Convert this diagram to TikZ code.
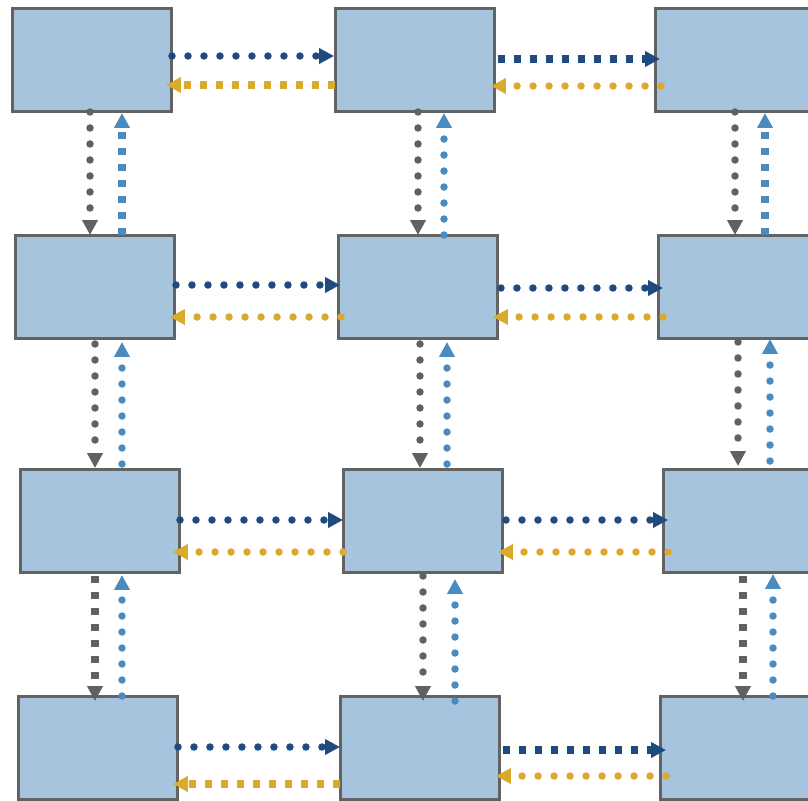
\documentclass[tikz,border=0pt]{standalone}
\usepackage{tikz}
\usetikzlibrary{arrows.meta,calc}
\definecolor{bfill}{HTML}{A7C4DE}
\definecolor{bline}{HTML}{636363}
\definecolor{cnavy}{HTML}{1F4A7D}
\definecolor{cgold}{HTML}{DAAB2A}
\definecolor{cgray}{HTML}{616161}
\definecolor{cblue}{HTML}{4A8BC0}
\tikzset{
  % plain cell
  cell/.style  = {rectangle, draw=bline, fill=bfill, line width=0.06cm, inner sep=0pt,
                  outer sep=0pt, minimum width=3.2cm, minimum height=2.08cm},
  % round dots
  dotln/.style = {draw=#1, line width=0.15cm, line cap=round, dash pattern=on 0pt off 0.32cm,
                  -{Triangle[length=0.3cm,width=0.3cm,fill=#1]}},
  % square dashes
  sqln/.style  = {draw=#1, line width=0.15cm, dash pattern=on 0.15cm off 0.17cm,
                  -{Triangle[length=0.3cm,width=0.3cm,fill=#1]}},
}

\begin{document}
\begin{tikzpicture}[x=0.02cm,y=-0.02cm]
\useasboundingbox (0,0) rectangle (808,801);
% cells
\node[cell] (A1) at (92,60) {};
\node[cell] (B1) at (415,60) {};
\node[cell] (C1) at (735,60) {};
\node[cell] (A2) at (95,287) {};
\node[cell] (B2) at (418,287) {};
\node[cell] (C2) at (738,287) {};
\node[cell] (A3) at (100,521) {};
\node[cell] (B3) at (423,521) {};
\node[cell] (C3) at (743,521) {};
\node[cell] (A4) at (98,748) {};
\node[cell] (B4) at (420,748) {};
\node[cell] (C4) at (740,748) {};
% row 1
\draw[dotln=cnavy] (A1.east |- 0,56) -- ($(B1.west |- 0,56)+(-1,0)$);
\draw[sqln=cgold] (B1.west |- 0,85) -- ($(A1.east |- 0,85)+(-6,0)$);
\draw[sqln=cnavy] ($(B1.east |- 0,59)+(3,0)$) -- ($(C1.west |- 0,59)+(5,0)$);
\draw[dotln=cgold] ($(C1.west |- 0,86)+(6,0)$) -- ($(B1.east |- 0,86)+(-4,0)$);
% row 1 to row 2
\draw[dotln=cgray] (A1.south -| 90,0) -- (A2.north -| 90,0);
\draw[sqln=cblue] (A2.north -| 122,0) -- ($(A1.south -| 122,0)+(0,1)$);
\draw[dotln=cgray] (B1.south -| 418,0) -- (B2.north -| 418,0);
\draw[dotln=cblue] (B2.north -| 444,0) -- ($(B1.south -| 444,0)+(0,1)$);
\draw[dotln=cgray] (C1.south -| 735,0) -- (C2.north -| 735,0);
\draw[sqln=cblue] (C2.north -| 765,0) -- ($(C1.south -| 765,0)+(0,1)$);
% row 2
\draw[dotln=cnavy] ($(A2.east |- 0,285)+(1,0)$) -- ($(B2.west |- 0,285)+(2,0)$);
\draw[dotln=cgold] ($(B2.west |- 0,317)+(3,0)$) -- ($(A2.east |- 0,317)+(-5,0)$);
\draw[dotln=cnavy] ($(B2.east |- 0,288)+(3,0)$) -- ($(C2.west |- 0,288)+(5,0)$);
\draw[dotln=cgold] ($(C2.west |- 0,317)+(5,0)$) -- ($(B2.east |- 0,317)+(-5,0)$);
% row 2 to row 3
\draw[dotln=cgray] ($(A2.south -| 95,0)+(0,5)$) -- ($(A3.north -| 95,0)+(0,-1)$);
\draw[dotln=cblue] ($(A3.north -| 122,0)+(0,-5)$) -- ($(A2.south -| 122,0)+(0,3)$);
\draw[dotln=cgray] ($(B2.south -| 420,0)+(0,5)$) -- ($(B3.north -| 420,0)+(0,-1)$);
\draw[dotln=cblue] ($(B3.north -| 447,0)+(0,-5)$) -- ($(B2.south -| 447,0)+(0,3)$);
\draw[dotln=cgray] ($(C2.south -| 738,0)+(0,3)$) -- ($(C3.north -| 738,0)+(0,-3)$);
\draw[dotln=cblue] ($(C3.north -| 770,0)+(0,-8)$) -- (C2.south -| 770,0);
% row 3
\draw[dotln=cnavy] (A3.east |- 0,520) -- (B3.west |- 0,520);
\draw[dotln=cgold] (B3.west |- 0,552) -- ($(A3.east |- 0,552)+(-7,0)$);
\draw[dotln=cnavy] ($(B3.east |- 0,520)+(3,0)$) -- ($(C3.west |- 0,520)+(5,0)$);
\draw[dotln=cgold] ($(C3.west |- 0,552)+(5,0)$) -- ($(B3.east |- 0,552)+(-5,0)$);
% row 3 to row 4
\draw[sqln=cgray] ($(A3.south -| 95,0)+(0,3)$) -- ($(A4.north -| 95,0)+(0,5)$);
\draw[dotln=cblue] (A4.north -| 122,0) -- ($(A3.south -| 122,0)+(0,2)$);
\draw[dotln=cgray] ($(B3.south -| 423,0)+(0,3)$) -- ($(B4.north -| 423,0)+(0,5)$);
\draw[dotln=cblue] ($(B4.north -| 455,0)+(0,5)$) -- ($(B3.south -| 455,0)+(0,6)$);
\draw[sqln=cgray] ($(C3.south -| 743,0)+(0,3)$) -- ($(C4.north -| 743,0)+(0,5)$);
\draw[dotln=cblue] (C4.north -| 773,0) -- ($(C3.south -| 773,0)+(0,1)$);
% row 4
\draw[dotln=cnavy] (A4.east |- 0,747) -- (B4.west |- 0,747);
\draw[sqln=cgold] (B4.west |- 0,784) -- ($(A4.east |- 0,784)+(-5,0)$);
\draw[sqln=cnavy] ($(B4.east |- 0,750)+(3,0)$) -- ($(C4.west |- 0,750)+(6,0)$);
\draw[dotln=cgold] ($(C4.west |- 0,776)+(6,0)$) -- ($(B4.east |- 0,776)+(-4,0)$);
\end{tikzpicture}
\end{document}
